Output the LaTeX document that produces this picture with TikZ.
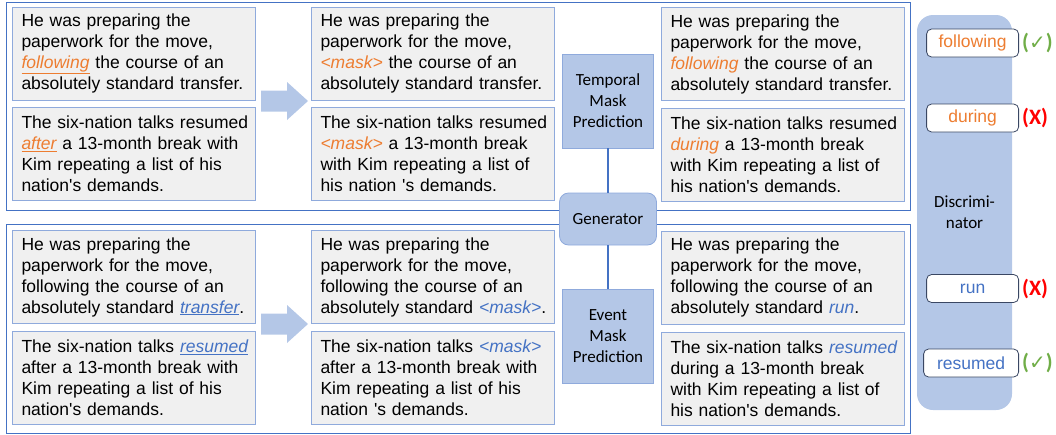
\documentclass[tikz,border=0pt]{standalone}
\usepackage{fontspec}
\setmainfont{Liberation Sans}
\newfontfamily\calfont{Carlito}
\newfontfamily\symfont{DejaVu Sans}
\definecolor{frameblue}{HTML}{4472C4}
\definecolor{edgeblue}{HTML}{8FAADC}
\definecolor{fillblue}{HTML}{B4C7E7}
\definecolor{boxgray}{HTML}{F0F0F0}
\definecolor{maskorange}{HTML}{ED7D31}
\definecolor{maskblue}{HTML}{4472C4}
\definecolor{okgreen}{HTML}{70AD47}
\definecolor{badred}{HTML}{FF0000}
\definecolor{wordedge}{HTML}{3A4763}
\newcommand{\tword}[1]{\textcolor{maskorange}{\itshape #1}}
\newcommand{\eword}[1]{\textcolor{maskblue}{\itshape #1}}
\newcommand{\ap}{\textquotesingle}
\newcommand{\tick}{{\symfont\mdseries\fontsize{20}{22}\selectfont ✓}}
\begin{document}
\begin{tikzpicture}
[x=1pt,y=-1pt,
  framedecorate/.style={draw=frameblue,line width=0.8pt},
  textdecorate/.style={shape=rectangle,draw=edgeblue,fill=boxgray,line width=0.8pt,
    minimum width=243pt,minimum height=93pt,text width=225pt,inner xsep=9pt,
    align=left,font=\fontsize{17.5}{21}\selectfont,
    execute at begin node={\rightskip=0pt plus 2em minus 20pt\hyphenpenalty=10000}},
  stepdecorate/.style={shape=rectangle,draw=edgeblue,fill=fillblue,line width=0.8pt,
    minimum width=91pt,minimum height=94pt,align=center,
    font=\calfont\fontsize{17}{21}\selectfont},
  arrowdecorate/.style={fill=fillblue},
  linkdecorate/.style={draw=frameblue,line width=1.2pt},
  worddecorate/.style={draw=wordedge,fill=white,rounded corners=5pt,line width=0.8pt,
    minimum height=28pt,inner sep=0pt,font=\fontsize{17.5}{21}\selectfont},
  markdecorate/.style={anchor=west,inner sep=0pt,font=\calfont\bfseries\fontsize{22}{23}\selectfont}]
\useasboundingbox (0,0) rectangle (1056,434);
%% frames
\draw[framedecorate] (6,2) rectangle (910,210);
\draw[framedecorate] (6,224) rectangle (910,433);
%% sentence boxes
\foreach \boxname/\x/\y/\content in {
  tA/134/53.5/{He was preparing the\\paperwork for the move,\\\tword{\underline{following}} the course of an\\absolutely standard transfer.},
  tB/134/154/{The six-nation talks resumed\\\tword{\underline{after}} a 13-month break with\\Kim repeating a list of his\\nation\ap s demands.},
  tC/433/53.5/{He was preparing the\\paperwork for the move,\\\tword{<mask>} the course of an\\absolutely standard transfer.},
  tD/433/154/{The six-nation talks resumed\\\tword{<mask>} a 13-month break\\with Kim repeating a list of\\his nation \ap s demands.},
  tE/783/54/{He was preparing the\\paperwork for the move,\\\tword{following} the course of an\\absolutely standard transfer.},
  tF/783/155/{The six-nation talks resumed\\\tword{during} a 13-month break\\with Kim repeating a list of\\his nation\ap s demands.},
  eA/134/277/{He was preparing the\\paperwork for the move,\\following the course of an\\absolutely standard \eword{\underline{transfer}}.},
  eB/134/377.5/{The six-nation talks \eword{\underline{resumed}}\\after a 13-month break with\\Kim repeating a list of his\\nation\ap s demands.},
  eC/433/277/{He was preparing the\\paperwork for the move,\\following the course of an\\absolutely standard \eword{<mask>}.},
  eD/433/377.5/{The six-nation talks \eword{<mask>}\\after a 13-month break with\\Kim repeating a list of his\\nation \ap s demands.},
  eE/783/277.5/{He was preparing the\\paperwork for the move,\\following the course of an\\absolutely standard \eword{run}.},
  eF/783/378.5/{The six-nation talks \eword{resumed}\\during a 13-month break\\with Kim repeating a list of\\his nation\ap s demands.}} {
  \node (\boxname) at (\x,\y) [textdecorate] {\content};
}
%% block arrows
\foreach \ay in {101,324} {
  \fill[arrowdecorate] (261,\ay-10.5) -- (287,\ay-10.5) -- (287,\ay-19) -- (308,\ay)
    -- (287,\ay+19) -- (287,\ay+10.5) -- (261,\ay+10.5) -- cycle;
}
%% generator
\node (temporal) at (608,101) [stepdecorate] {Temporal\\Mask\\Prediction};
\node (event) at (608,336.5) [stepdecorate] {Event\\Mask\\Prediction};
\node (generator) at (608,219) [stepdecorate,rounded corners=9pt,minimum width=97pt,
  minimum height=52pt] {Generator};
\path
\foreach \startnode/\endnode in {temporal/generator, generator/event} {
  (\startnode) edge[linkdecorate] (\endnode)
};
%% discriminator
\node (disc) at (964.5,212.5) [shape=rectangle,fill=fillblue,rounded corners=16pt,
  minimum width=95pt,minimum height=395pt,align=center,
  font=\calfont\fontsize{17}{21}\selectfont] {Discrimi-\\nator};
\foreach \wordname/\y/\boxwd/\word/\col/\mark/\markcol in {
  wA/43/92/following/maskorange/(\tick)/okgreen,
  wB/118/92/during/maskorange/(X)/badred,
  wC/288.5/92/run/maskblue/(X)/badred,
  wD/363/95/resumed/maskblue/(\tick)/okgreen} {
  \node (\wordname) at (1019,\y) [worddecorate,anchor=east,minimum width=\boxwd pt,
    text=\col] {\word};
  \node [markdecorate,text=\markcol] at ([xshift=3pt]\wordname.east) {\mark};
}
\end{tikzpicture}
\end{document}
